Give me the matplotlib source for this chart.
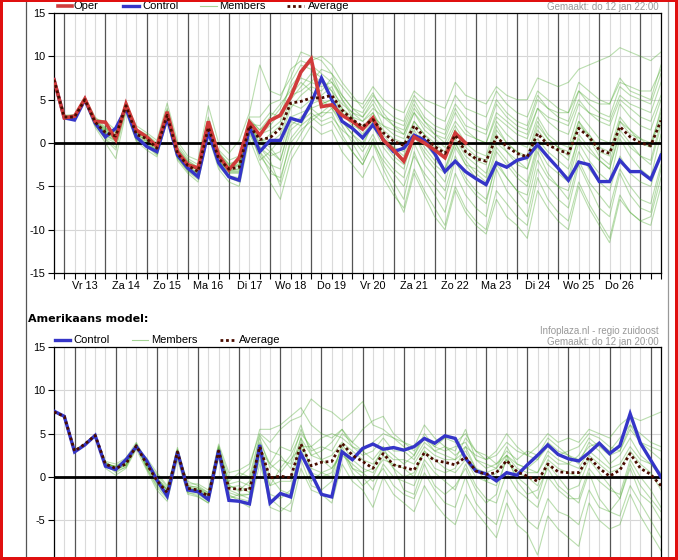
import matplotlib

matplotlib.use("Agg")
import matplotlib.pyplot as plt
from matplotlib.lines import Line2D
from matplotlib.patches import Rectangle
import numpy as np

W, H = 678, 560

plt.rcParams["font.family"] = ["Liberation Sans", "DejaVu Sans"]
plt.rcParams["axes.unicode_minus"] = False

DAY_LABELS = ["Vr 13", "Za 14", "Zo 15", "Ma 16", "Di 17", "Wo 18", "Do 19",
              "Vr 20", "Za 21", "Zo 22", "Ma 23", "Di 24", "Wo 25", "Do 26"]

# ECMWF ensemble (top), 6-hourly steps starting 12 jan 18:00
ec_oper = [7.3, 2.9, 3.1, 5.1, 2.5, 2.4, 0.4, 4.5, 1.5, 0.7, -0.4, 3.6, -1.0, -2.5, -2.9, 2.5, -1.4, -3.1, -1.7, 2.4,
           0.9, 2.6, 3.2, 5.3, 8.2, 9.7, 4.2, 4.4, 3.2, 2.5, 1.6, 2.9, 0.35, -0.8, -2.1, 0.7, 0.0, -0.8, -1.7, 1.15, 0.0]
ec_control = [7.3, 2.9, 2.65, 5.0, 2.3, 0.7, 1.7, 4.0, 0.7, -0.4, -1.0, 2.9, -1.4, -2.9, -3.9, 1.3, -2.3, -3.9, -4.3, 1.85,
              -1.0, 0.3, 0.3, 2.85, 2.5, 4.6, 7.5, 5.0, 2.5, 1.7, 0.6, 2.1, 0.4, -1.0, -0.6, 0.9, 0.35, -1.2, -3.3, -2.1,
              -3.3, -4.1, -4.8, -2.3, -2.8, -2.0, -1.65, -0.2, -1.6, -2.9, -4.3, -2.2, -2.5, -4.45, -4.45, -2.0, -3.3, -3.3, -4.2, -1.4]
ec_average = [7.3, 3.0, 3.0, 5.0, 2.4, 1.2, 0.8, 4.3, 1.0, 0.5, -0.6, 3.2, -1.2, -2.6, -3.3, 1.8, -1.8, -3.0, -2.8, 2.0,
              0.4, 0.6, 1.7, 4.6, 4.8, 5.2, 5.2, 5.5, 3.8, 2.7, 1.9, 2.7, 1.2, 0.2, -0.3, 2.0, 0.7, -0.4, -1.2, 0.9,
              -1.0, -1.8, -2.1, 0.7, -0.4, -1.2, -1.6, 1.1, -0.2, -0.8, -1.2, 1.7, 0.7, -0.8, -1.2, 1.9, 0.7, 0.0, -0.3, 2.6]
ec_members = [
    [7.3, 3.2, 3.3, 5.2, 3.0, 1.8, 0.2, 4.8, 1.5, 0.9, -0.2, 3.8, -0.5, -2.0, -2.8, 2.5, -1.0, -2.5, -2.0, 2.8,
     1.5, 2.5, 4.0, 6.5, 8.0, 9.5, 10.0, 9.0, 7.0, 5.5, 4.0, 5.8, 3.5, 2.0, 1.5, 4.5, 2.5, 1.0, 0.5, 3.5,
     1.5, 0.5, 0.0, 3.0, 2.0, 1.0, 0.5, 4.0, 2.5, 1.5, 1.0, 4.5, 3.5, 2.5, 2.0, 5.0, 4.0, 3.0, 2.5, 5.5],
    [7.2, 2.8, 2.7, 4.8, 1.8, 0.0, -1.8, 3.5, 0.2, -0.8, -1.6, 2.6, -2.0, -3.5, -4.5, 0.8, -3.0, -4.5, -5.0, 0.5,
     -2.5, -4.5, -6.5, -2.0, 0.0, 2.0, 1.0, 1.5, -1.0, -2.5, -4.0, -1.5, -4.0, -6.0, -7.5, -3.0, -5.5, -7.5, -9.5, -5.0,
     -7.5, -9.0, -10.0, -5.5, -7.0, -8.5, -9.5, -4.0, -6.5, -8.0, -9.0, -4.5, -7.0, -9.0, -11.0, -6.0, -8.0, -9.0, -8.5, -4.0],
    [7.4, 3.1, 3.2, 5.3, 2.8, 2.5, 1.5, 4.6, 2.0, 1.2, 0.3, 4.6, 0.2, -1.5, -2.0, 4.3, 0.0, -1.2, 0.3, 3.5,
     9.0, 6.0, 5.5, 7.5, 10.5, 10.0, 9.5, 8.0, 6.5, 5.0, 4.5, 6.5, 5.0, 4.0, 3.5, 6.0, 5.0, 4.5, 4.0, 7.0,
     5.5, 5.0, 4.5, 6.5, 5.5, 5.0, 5.0, 7.5, 7.0, 6.5, 7.0, 8.5, 9.0, 9.5, 10.0, 11.0, 10.5, 10.0, 9.5, 10.5],
    [7.3, 3.0, 2.9, 5.0, 2.2, 0.5, -0.5, 4.0, 0.5, 0.0, -1.2, 3.0, -1.5, -3.0, -3.8, 1.5, -2.3, -3.5, -3.5, 1.5,
     0.0, -1.0, 0.5, 4.0, 5.5, 6.5, 6.0, 7.5, 5.0, 3.0, 1.5, 3.5, 1.0, -0.5, -1.5, 2.0, 0.0, -1.5, -3.0, 0.0,
     -2.0, -3.5, -4.5, -0.5, -2.0, -3.5, -4.5, 0.0, -1.5, -3.0, -4.0, 1.0, -0.5, -2.0, -3.0, 1.5, 0.0, -1.5, -2.5, 2.0],
    [7.3, 3.0, 3.1, 5.1, 2.6, 1.5, 1.2, 4.4, 1.2, 0.6, -0.4, 3.4, -1.0, -2.5, -3.2, 2.0, -1.5, -2.8, -2.6, 2.3,
     1.0, 1.5, 2.5, 5.5, 6.0, 7.0, 8.5, 8.0, 5.5, 4.0, 3.0, 4.5, 2.0, 1.0, 0.5, 3.5, 1.5, 0.5, -0.5, 2.0,
     0.0, -1.0, -1.5, 2.5, 1.0, 0.0, -0.5, 3.0, 1.0, 0.0, -0.5, 3.5, 2.0, 0.5, 0.0, 4.5, 3.0, 2.0, 1.5, 5.0],
    [7.2, 2.9, 2.9, 4.9, 2.2, 0.8, 0.2, 4.1, 0.6, 0.2, -1.0, 2.9, -1.6, -3.0, -3.6, 1.5, -2.2, -3.4, -3.4, 1.8,
     -1.0, -2.5, -3.0, 1.5, 2.5, 3.5, 2.5, 3.0, 1.5, 0.5, -1.0, 1.0, -1.5, -3.0, -4.0, 0.0, -2.5, -4.0, -5.5, -1.5,
     -4.0, -5.5, -6.5, -2.5, -4.0, -5.5, -6.0, -1.0, -3.5, -5.0, -6.5, -2.0, -4.5, -6.0, -7.5, -3.0, -5.0, -6.5, -7.0, -2.5],
    [7.3, 3.1, 3.0, 5.0, 2.5, 1.0, 1.0, 4.3, 1.0, 0.3, -0.8, 3.3, -1.3, -2.8, -3.5, 1.7, -2.0, -3.2, -3.0, 2.0,
     0.5, 0.0, 1.0, 4.5, 4.0, 5.0, 5.5, 6.5, 4.0, 2.5, 1.0, 2.5, 0.5, -0.5, -1.0, 2.5, 1.0, -0.5, -1.5, 1.5,
     -0.5, -1.5, -2.0, 2.0, 0.0, -1.0, -1.5, 2.5, 0.5, -0.5, -1.0, 2.5, 1.0, -0.5, -1.0, 3.0, 1.5, 0.5, 0.0, 3.5],
    [7.3, 3.0, 3.0, 5.0, 2.3, 1.3, 0.5, 4.2, 0.8, 0.5, -0.5, 3.0, -1.0, -2.4, -3.0, 1.6, -1.6, -2.8, -2.5, 2.2,
     2.0, 3.5, 3.0, 7.0, 9.0, 8.5, 7.5, 6.0, 3.5, 2.0, 1.5, 3.0, 0.0, -1.5, -2.5, 1.0, -1.0, -2.5, -3.5, 0.0,
     -2.5, -3.0, -4.0, 1.0, -1.0, -2.0, -3.0, 1.5, 0.0, -1.0, -2.0, 2.5, 0.5, -1.5, -2.5, 2.5, 1.5, 0.0, -0.5, 4.0],
    [7.3, 2.9, 3.0, 5.0, 2.4, 1.1, 0.9, 4.5, 1.2, 0.7, -0.3, 3.5, -0.8, -2.2, -3.0, 2.2, -1.3, -2.6, -2.2, 2.5,
     -0.5, -1.5, -1.0, 3.0, 3.5, 4.0, 4.5, 5.0, 3.5, 2.5, 2.0, 3.0, 2.0, 1.5, 1.0, 3.5, 2.0, 1.0, 0.0, 2.5,
     1.0, 0.5, 0.0, 3.5, 2.5, 1.5, 1.0, 4.0, 3.0, 2.5, 2.0, 5.0, 3.5, 3.0, 2.5, 5.5, 4.5, 4.0, 3.5, 7.0],
    [7.3, 3.0, 3.0, 5.0, 2.1, 0.6, 0.0, 3.9, 0.4, -0.2, -1.3, 2.7, -1.8, -3.2, -4.0, 1.2, -2.5, -3.8, -4.0, 1.0,
     -1.5, -3.0, -4.5, 0.5, 2.0, 4.5, 5.0, 4.0, 2.0, 0.0, -2.0, 0.5, -2.5, -4.5, -6.5, -1.0, -4.0, -6.0, -8.0, -3.5,
     -6.0, -7.5, -8.5, -3.0, -5.5, -7.0, -8.5, -3.0, -5.0, -6.5, -7.5, -2.5, -5.0, -7.5, -8.5, -3.5, -6.0, -7.5, -8.0, -3.0],
    [7.3, 3.0, 3.0, 5.1, 2.6, 1.6, 1.4, 4.7, 1.6, 1.0, 0.0, 4.0, -0.2, -1.8, -2.5, 3.0, -0.8, -2.0, -1.5, 3.0,
     3.0, 4.5, 5.0, 8.5, 9.5, 9.0, 8.0, 7.0, 5.0, 3.5, 2.5, 4.0, 3.0, 2.0, 1.0, 4.0, 2.5, 1.5, 1.0, 4.0,
     2.0, 1.5, 1.0, 4.5, 3.0, 2.0, 1.5, 5.0, 4.0, 3.5, 3.5, 6.0, 5.0, 4.5, 4.5, 7.0, 6.5, 6.0, 6.0, 8.5],
    [7.3, 3.0, 3.0, 5.0, 2.4, 1.0, 0.6, 4.2, 1.0, 0.4, -0.7, 3.1, -1.3, -2.7, -3.4, 1.7, -1.9, -3.1, -3.0, 1.8,
     -2.0, -1.0, -2.0, 2.5, 2.0, 3.0, 3.5, 4.5, 2.5, 1.0, 0.0, 2.0, -0.5, -2.0, -3.0, 1.0, -1.5, -3.0, -4.5, -0.5,
     -2.5, -4.0, -5.0, -1.0, -2.5, -4.0, -5.0, -0.5, -2.5, -3.5, -4.5, 0.0, -2.0, -3.5, -4.5, 0.5, -1.5, -3.0, -4.0, 1.0],
    [7.3, 3.0, 3.0, 5.0, 2.5, 1.4, 1.0, 4.4, 1.1, 0.6, -0.5, 3.3, -1.1, -2.5, -3.1, 1.9, -1.7, -2.9, -2.7, 2.1,
     1.0, 2.0, 3.5, 5.5, 7.0, 6.0, 4.5, 5.0, 4.0, 3.0, 2.5, 3.5, 1.5, 0.5, 0.0, 2.5, 1.0, 0.0, -1.0, 1.5,
     -1.0, -2.0, -2.5, 1.5, 0.0, -1.0, -2.0, 2.0, 0.5, -0.5, -1.5, 2.0, 1.0, -1.0, -1.5, 2.5, 1.0, 0.5, -0.5, 3.0],
    [7.3, 3.0, 3.0, 5.0, 2.3, 0.9, 0.3, 4.0, 0.7, 0.0, -1.0, 2.9, -1.6, -3.0, -3.7, 1.4, -2.1, -3.3, -3.3, 1.6,
     -0.5, -2.0, -5.0, -1.0, 1.0, 3.0, 2.0, 2.5, 0.5, -1.0, -2.5, 0.0, -3.0, -5.5, -8.0, -3.5, -6.0, -8.5, -10.0, -5.5,
     -8.0, -9.5, -10.5, -6.5, -8.5, -9.5, -11.0, -5.5, -7.5, -9.0, -10.0, -5.0, -7.5, -9.5, -11.5, -6.5, -8.0, -9.0, -9.5, -5.0],
    [7.3, 3.0, 3.1, 5.0, 2.5, 1.3, 0.9, 4.4, 1.2, 0.7, -0.4, 3.4, -1.0, -2.4, -3.1, 2.0, -1.6, -2.8, -2.4, 2.2,
     0.0, 1.0, 2.0, 5.0, 6.5, 8.0, 7.0, 6.0, 4.5, 3.5, 3.0, 5.0, 3.0, 2.5, 2.0, 5.0, 3.0, 2.0, 1.5, 4.5,
     3.0, 2.0, 1.5, 5.0, 3.5, 2.5, 2.0, 5.5, 4.0, 3.0, 2.5, 6.0, 4.5, 3.5, 3.0, 6.5, 5.5, 5.0, 4.5, 8.0],
    [7.3, 3.0, 2.9, 4.9, 2.2, 0.9, 0.4, 4.1, 0.8, 0.2, -0.9, 3.0, -1.4, -2.9, -3.5, 1.6, -2.0, -3.2, -3.2, 1.8,
     0.5, -0.5, -2.0, 2.0, 3.0, 4.0, 3.0, 4.0, 2.5, 1.0, -0.5, 2.5, 0.5, -1.0, -2.0, 1.5, -0.5, -2.0, -3.0, 0.5,
     -1.5, -2.5, -3.5, 0.0, -1.0, -2.5, -3.0, 0.5, -1.0, -2.0, -3.0, 0.5, -1.0, -2.0, -3.0, 1.0, -0.5, -1.5, -2.0, 2.5],
    [7.3, 3.1, 3.1, 5.1, 2.7, 1.7, 1.3, 4.6, 1.4, 0.9, -0.2, 3.7, -0.6, -2.1, -2.8, 2.4, -1.2, -2.4, -2.0, 2.6,
     1.5, 3.0, 4.5, 6.0, 7.5, 7.0, 6.5, 7.0, 5.5, 4.0, 3.5, 5.5, 4.0, 3.0, 2.5, 5.5, 4.0, 3.0, 2.5, 5.5,
     4.0, 3.5, 3.0, 6.0, 4.5, 3.5, 3.0, 6.0, 5.0, 4.0, 3.5, 7.0, 6.0, 5.0, 4.5, 7.5, 6.0, 5.5, 5.0, 9.0],
    [7.3, 2.9, 2.9, 4.9, 2.0, 0.4, -0.8, 3.8, 0.3, -0.4, -1.4, 2.7, -1.7, -3.3, -4.2, 1.1, -2.7, -4.0, -4.5, 1.2,
     -1.0, -3.5, -4.0, 0.0, 1.5, 2.5, 3.5, 3.5, 1.0, -1.0, -2.5, 0.0, -2.0, -3.5, -5.0, -1.5, -3.5, -5.0, -6.5, -2.0,
     -4.5, -6.0, -7.0, -2.0, -4.0, -5.5, -7.0, -2.0, -4.0, -5.0, -5.5, -1.0, -3.0, -4.5, -5.5, -1.5, -3.5, -4.5, -5.0, -1.0],
]

# GFS ensemble (bottom), 6-hourly steps starting 12 jan 12:00
gfs_control = [7.6, 7.0, 2.9, 3.7, 4.8, 1.25, 0.85, 2.0, 3.5, 1.9, -0.35, -2.2, 2.9, -1.5, -1.7, -2.6, 3.1, -2.7, -2.8, -3.1,
               3.7, -3.0, -1.9, -2.3, 2.7, 0.4, -2.0, -2.3, 2.9, 2.0, 3.3, 3.8, 3.2, 3.4, 3.1, 3.5, 4.45, 3.9, 4.75, 4.45,
               2.15, 0.7, 0.35, -0.45, 0.5, 0.2, 1.4, 2.5, 3.7, 2.6, 2.1, 1.85, 2.8, 3.9, 2.7, 3.6, 7.3, 3.9, 1.95, 0.0]
gfs_average = [7.5, 7.0, 3.0, 3.8, 4.8, 1.5, 1.0, 1.5, 3.6, 1.5, -0.4, -1.8, 2.9, -1.3, -1.5, -2.2, 3.0, -1.3, -1.4, -1.5,
               3.5, -0.1, 0.1, -0.1, 3.8, 1.3, 1.7, 1.8, 3.9, 2.5, 1.8, 1.0, 2.7, 1.4, 1.1, 0.8, 2.8, 1.9, 1.7, 1.4,
               2.3, 0.7, 0.3, 0.5, 1.9, 0.6, 0.1, -0.5, 1.5, 0.6, 0.5, 0.5, 2.3, 1.0, 0.1, 0.8, 2.7, 1.0, 0.3, -1.0]
gfs_members = [
    [7.5, 7.0, 3.1, 3.9, 4.9, 1.8, 1.5, 2.2, 4.0, 1.8, 0.3, -1.2, 3.4, -0.8, -0.8, -1.5, 3.8, 0.5, 0.8, 1.5,
     5.0, 4.0, 5.5, 6.5, 7.0, 9.0, 8.0, 7.5, 6.5, 7.5, 8.7, 6.0, 5.5, 4.5, 3.5, 2.5, 4.5, 3.5, 4.5, 4.0,
     5.0, 3.0, 2.0, 2.5, 4.0, 3.0, 2.5, 3.5, 5.0, 4.0, 4.5, 4.0, 5.5, 5.0, 4.5, 6.0, 7.0, 6.5, 7.0, 7.5],
    [7.5, 6.9, 2.9, 3.7, 4.6, 1.0, 0.2, 1.0, 3.2, 0.8, -1.5, -2.8, 2.0, -2.0, -2.3, -3.0, 2.2, -2.0, -2.8, -3.5,
     1.5, -2.5, -3.5, -4.0, 1.0, -1.5, -2.0, -3.0, 1.5, -0.5, -1.5, -3.5, 0.0, -2.0, -3.0, -4.0, -1.0, -3.0, -4.5, -5.5,
     -2.0, -4.0, -5.5, -7.0, -3.0, -5.5, -6.5, -9.0, -4.5, -6.0, -7.0, -8.0, -3.0, -5.0, -6.0, -5.5, -2.0, -4.5, -6.5, -8.5],
    [7.5, 7.0, 3.0, 3.8, 4.7, 1.4, 0.8, 1.4, 3.8, 1.2, -0.8, -2.0, 3.2, -1.5, -1.8, -2.5, 3.6, -1.0, -1.5, -0.5,
     4.5, 1.0, 2.0, 1.5, 5.5, 3.0, 3.5, 3.0, 5.0, 4.0, 5.5, 6.5, 7.0, 5.0, 4.0, 3.5, 6.0, 4.5, 3.5, 3.0,
     5.5, 2.0, 1.5, 1.0, 3.5, 1.5, 1.0, 0.5, 3.0, 2.0, 1.5, 2.5, 4.5, 3.5, 2.5, 3.0, 5.5, 4.0, 3.5, 3.0],
    [7.5, 7.0, 3.0, 3.7, 4.8, 1.6, 1.2, 1.8, 3.5, 1.5, -0.2, -1.5, 2.7, -1.0, -1.2, -2.0, 3.2, -0.8, -0.5, -1.0,
     3.8, -1.0, -0.5, -0.5, 4.5, 0.5, 0.0, 0.5, 3.5, 1.0, 0.0, -1.5, 1.5, 0.0, -0.5, -1.0, 2.0, 0.5, -0.5, -1.5,
     1.5, -1.0, -2.5, -3.0, 0.5, -1.5, -2.5, -3.5, 0.0, -1.5, -2.5, -2.5, 1.0, -0.5, -1.5, -2.0, 2.0, 0.0, -1.5, -3.5],
    [7.5, 7.0, 3.0, 3.8, 4.9, 1.5, 0.5, 1.2, 3.9, 1.0, -1.0, -2.3, 3.0, -1.8, -2.0, -2.8, 2.8, -2.2, -2.5, -2.8,
     2.5, -3.5, -4.0, -3.0, 2.0, -1.0, -1.5, -0.5, 3.0, 0.5, -1.0, 0.0, 2.5, 1.0, -1.5, -2.0, 1.5, -1.0, -2.0, -1.0,
     1.0, -1.5, -3.0, -2.0, 2.5, -0.5, -2.0, -1.5, 1.0, -1.0, -2.0, -3.0, 0.5, -2.5, -4.0, -2.5, 1.0, -2.0, -3.0, -5.0],
    [7.5, 7.0, 3.0, 3.8, 4.8, 1.3, 0.9, 1.5, 3.3, 2.2, 0.5, -1.0, 2.6, -0.5, -1.0, -1.8, 3.0, -1.2, -1.0, -1.8,
     3.2, 1.5, 0.5, 2.0, 3.5, 3.5, 4.5, 5.0, 4.5, 3.5, 2.5, 3.0, 4.5, 3.0, 3.0, 2.0, 4.0, 3.0, 3.5, 2.5,
     3.5, 2.5, 2.0, 3.0, 5.0, 3.5, 2.5, 2.0, 4.0, 3.0, 2.5, 1.5, 4.0, 3.0, 1.5, 2.5, 4.5, 2.5, 1.5, 0.5],
    [7.5, 7.0, 3.0, 3.8, 4.8, 1.7, 1.0, 1.6, 3.7, 1.6, -0.5, -1.8, 3.1, -1.2, -1.6, -2.3, 3.3, -1.5, -2.0, -2.5,
     3.4, 0.0, -1.5, -2.0, 4.0, 1.0, 0.5, 0.0, 3.8, 2.0, 1.0, 0.5, 2.0, 1.5, 1.0, 0.0, 3.0, 2.0, 1.0, 0.5,
     2.0, 0.0, -0.5, 0.5, 2.0, 0.5, 0.0, -1.0, 2.0, 1.0, 0.5, 0.0, 2.5, 1.5, 0.5, 1.0, 3.0, 1.5, 0.5, -1.5],
    [7.5, 7.0, 3.0, 3.8, 4.8, 1.4, 1.3, 2.0, 3.6, 1.3, -0.6, -1.9, 2.8, -1.5, -1.4, -2.0, 3.1, -0.5, 0.5, 0.0,
     4.8, 3.0, 2.5, 1.0, 4.5, 2.5, 3.0, 4.0, 5.5, 4.0, 3.0, 2.0, 3.5, 2.5, 1.5, 2.5, 5.0, 3.5, 3.0, 3.5,
     4.0, 2.0, 1.0, 1.5, 2.5, 1.5, 1.0, 2.0, 3.5, 2.5, 3.0, 3.5, 5.0, 4.5, 3.5, 3.0, 6.0, 4.0, 3.0, 2.0],
    [7.5, 7.0, 3.0, 3.8, 4.8, 1.2, 0.7, 1.1, 3.4, 1.4, -0.3, -1.6, 2.9, -1.3, -1.5, -2.2, 2.9, -1.8, -2.2, -2.0,
     3.0, -2.0, -2.5, -1.5, 3.5, -0.5, 0.5, 1.0, 2.5, 1.5, 0.5, -0.5, 1.0, -1.0, -2.0, -2.5, 0.5, -1.5, -3.0, -3.5,
     0.0, -3.0, -4.5, -5.5, -1.5, -3.5, -5.0, -6.0, -2.5, -4.0, -4.5, -5.5, -1.5, -3.5, -4.0, -4.5, -1.0, -3.0, -5.0, -7.0],
    [7.5, 7.0, 3.0, 3.8, 4.8, 1.6, 1.1, 1.4, 3.8, 1.7, -0.1, -1.4, 3.1, -1.1, -1.4, -2.1, 3.4, -0.9, -1.7, -1.2,
     4.0, 1.5, 3.5, 3.0, 6.0, 2.5, 2.0, 2.5, 4.0, 3.0, 2.0, 1.5, 3.0, 2.0, 2.0, 1.5, 3.5, 2.5, 2.0, 2.0,
     3.0, 1.0, 0.5, 1.0, 2.5, 1.0, 0.5, 0.5, 2.5, 1.5, 1.5, 1.0, 3.0, 2.0, 1.0, 1.5, 3.5, 2.0, 1.5, 0.0],
    [7.5, 7.0, 3.0, 3.8, 4.8, 1.5, 0.9, 1.3, 3.7, 1.0, -1.2, -2.5, 2.6, -1.8, -2.2, -3.0, 2.5, -2.5, -2.0, -2.0,
     2.0, -1.0, 1.0, 2.5, 5.0, 3.5, 2.0, 1.0, 3.0, 1.0, 0.5, 1.0, 3.5, 1.0, 0.0, 0.5, 3.0, 1.0, 0.5, 1.0,
     3.5, 1.0, -0.5, -1.0, 2.0, 0.0, -1.0, -2.5, 1.5, 0.0, -1.5, -1.0, 2.0, 0.5, -1.0, -2.5, 1.5, -1.0, -2.5, -4.0],
    [7.5, 7.0, 3.0, 3.8, 4.8, 1.5, 1.2, 1.9, 3.6, 1.7, 0.0, -1.5, 3.0, -1.0, -1.2, -1.8, 3.5, 0.0, 0.0, 1.0,
     5.5, 5.5, 6.0, 7.0, 8.0, 6.0, 5.0, 4.5, 5.5, 3.5, 3.0, 4.0, 5.0, 4.5, 4.0, 3.0, 4.5, 3.0, 2.5, 2.0,
     4.5, 3.0, 2.5, 1.5, 3.0, 2.0, 3.0, 2.5, 4.5, 3.5, 2.5, 2.0, 3.5, 4.0, 3.0, 4.5, 6.0, 5.0, 4.0, 3.5],
]

OPER_COLOR = "#d13b3b"
CONTROL_COLOR = "#3535c8"
MEMBER_COLOR = "#4aa82c"
AVERAGE_COLOR = "#4a0c00"
MEMBER_ALPHA = 0.38


def style_panel(ax, first_midnight, hide_low_labels):
    n = 60
    ax.set_xlim(0, n - 1)
    ax.set_ylim(-15, 15)
    for v in (-10, -5, 5, 10):
        ax.axhline(v, color="#d6d6d6", lw=0.8, zorder=0.5)
    for i in range(n):
        if (i - first_midnight) % 4 == 0:
            ax.axvline(i, color="#555555", lw=0.9, zorder=0.6)
        else:
            ax.axvline(i, color="#dadada", lw=0.8, zorder=0.5)
    ax.axhline(0, color="black", lw=2.0, zorder=3)
    yt = [-15, -10, -5, 0, 5, 10, 15]
    ax.set_yticks(yt)
    if hide_low_labels:
        # the lower part of this panel falls below the page edge
        ax.set_yticklabels(["" if v < -5 else str(v) for v in yt])
    ax.set_xticks(np.arange(n), minor=True)
    noon = [first_midnight + 2 + 4 * k for k in range(len(DAY_LABELS))]
    ax.set_xticks(noon)
    ax.set_xticklabels([] if hide_low_labels else DAY_LABELS)
    ax.tick_params(which="both", direction="out", length=4, width=0.8, color="black",
                   labelsize=7.8, pad=2)
    for sp in ax.spines.values():
        sp.set_color("black")
        sp.set_linewidth(0.9)


def draw_legend(items, y):
    for x0, x1, xt, label, kw in items:
        fig.add_artist(Line2D([x0 / W, x1 / W], [1 - y / H, 1 - y / H], **kw))
        fig.text(xt / W, 1 - y / H, label, fontsize=8, va="center", ha="left")


fig = plt.figure(figsize=(W / 100, H / 100), dpi=100)
fig.patch.set_facecolor("white")

ax_top = fig.add_axes([54 / W, 1 - 273 / H, 607 / W, 260 / H])
ax_bot = fig.add_axes([54 / W, 1 - 607 / H, 607 / W, 260 / H])

x = np.arange(60)

# top panel: ECMWF
style_panel(ax_top, 1, False)
for m in ec_members:
    ax_top.plot(x, m, color=MEMBER_COLOR, lw=0.8, alpha=MEMBER_ALPHA, zorder=2)
ax_top.plot(x, ec_control, color=CONTROL_COLOR, lw=2.4, zorder=4, solid_joinstyle="miter")
ax_top.plot(x[:len(ec_oper)], ec_oper, color=OPER_COLOR, lw=2.6, zorder=5, solid_joinstyle="miter")
ax_top.plot(x, ec_average, color=AVERAGE_COLOR, lw=2.0, ls=(0, (1, 1)), zorder=6)

# bottom panel: GFS
style_panel(ax_bot, 2, True)
for m in gfs_members:
    ax_bot.plot(x, m, color=MEMBER_COLOR, lw=0.8, alpha=MEMBER_ALPHA, zorder=2)
ax_bot.plot(x, gfs_control, color=CONTROL_COLOR, lw=2.4, zorder=4, solid_joinstyle="miter")
ax_bot.plot(x, gfs_average, color=AVERAGE_COLOR, lw=2.0, ls=(0, (1, 1)), zorder=6)

# legends and captions
top_items = [
    (58, 72, 74, "Oper", dict(color=OPER_COLOR, lw=2.6)),
    (123, 139, 142, "Control", dict(color=CONTROL_COLOR, lw=2.4)),
    (200, 217, 219, "Members", dict(color=MEMBER_COLOR, lw=0.8, alpha=0.5)),
    (287, 304, 308, "Average", dict(color=AVERAGE_COLOR, lw=2.0, ls=(0, (1, 1)))),
]
draw_legend(top_items, 6)
bot_items = [
    (55, 70, 73, "Control", dict(color=CONTROL_COLOR, lw=2.4)),
    (132, 148, 151, "Members", dict(color=MEMBER_COLOR, lw=0.8, alpha=0.5)),
    (220, 236, 239, "Average", dict(color=AVERAGE_COLOR, lw=2.0, ls=(0, (1, 1)))),
]
draw_legend(bot_items, 340)

fig.text(659 / W, 1 - 7 / H, "Gemaakt: do 12 jan 22:00", fontsize=7, color="#999999",
         ha="right", va="center")
fig.text(28 / W, 1 - 319 / H, "Amerikaans model:", fontsize=8, fontweight="bold",
         family="DejaVu Sans", ha="left", va="center")
fig.text(659 / W, 1 - 331 / H, "Infoplaza.nl - regio zuidoost", fontsize=7, color="#999999",
         ha="right", va="center")
fig.text(659 / W, 1 - 342 / H, "Gemaakt: do 12 jan 20:00", fontsize=7, color="#999999",
         ha="right", va="center")

# page frame lines and red border
fig.add_artist(Line2D([26 / W, 26 / W], [0, 1], color="#555555", lw=0.9))
fig.add_artist(Line2D([668 / W, 668 / W], [0, 1], color="#999999", lw=0.9))
for rect in [(0, 0, 3 / W, 1), (1 - 3 / W, 0, 3 / W, 1), (0, 1 - 2 / H, 1, 2 / H), (0, 0, 1, 3 / H)]:
    fig.add_artist(Rectangle(rect[:2], rect[2], rect[3], transform=fig.transFigure,
                             color="#e01010", lw=0, zorder=10))

fig.savefig("out.png", dpi=100)
